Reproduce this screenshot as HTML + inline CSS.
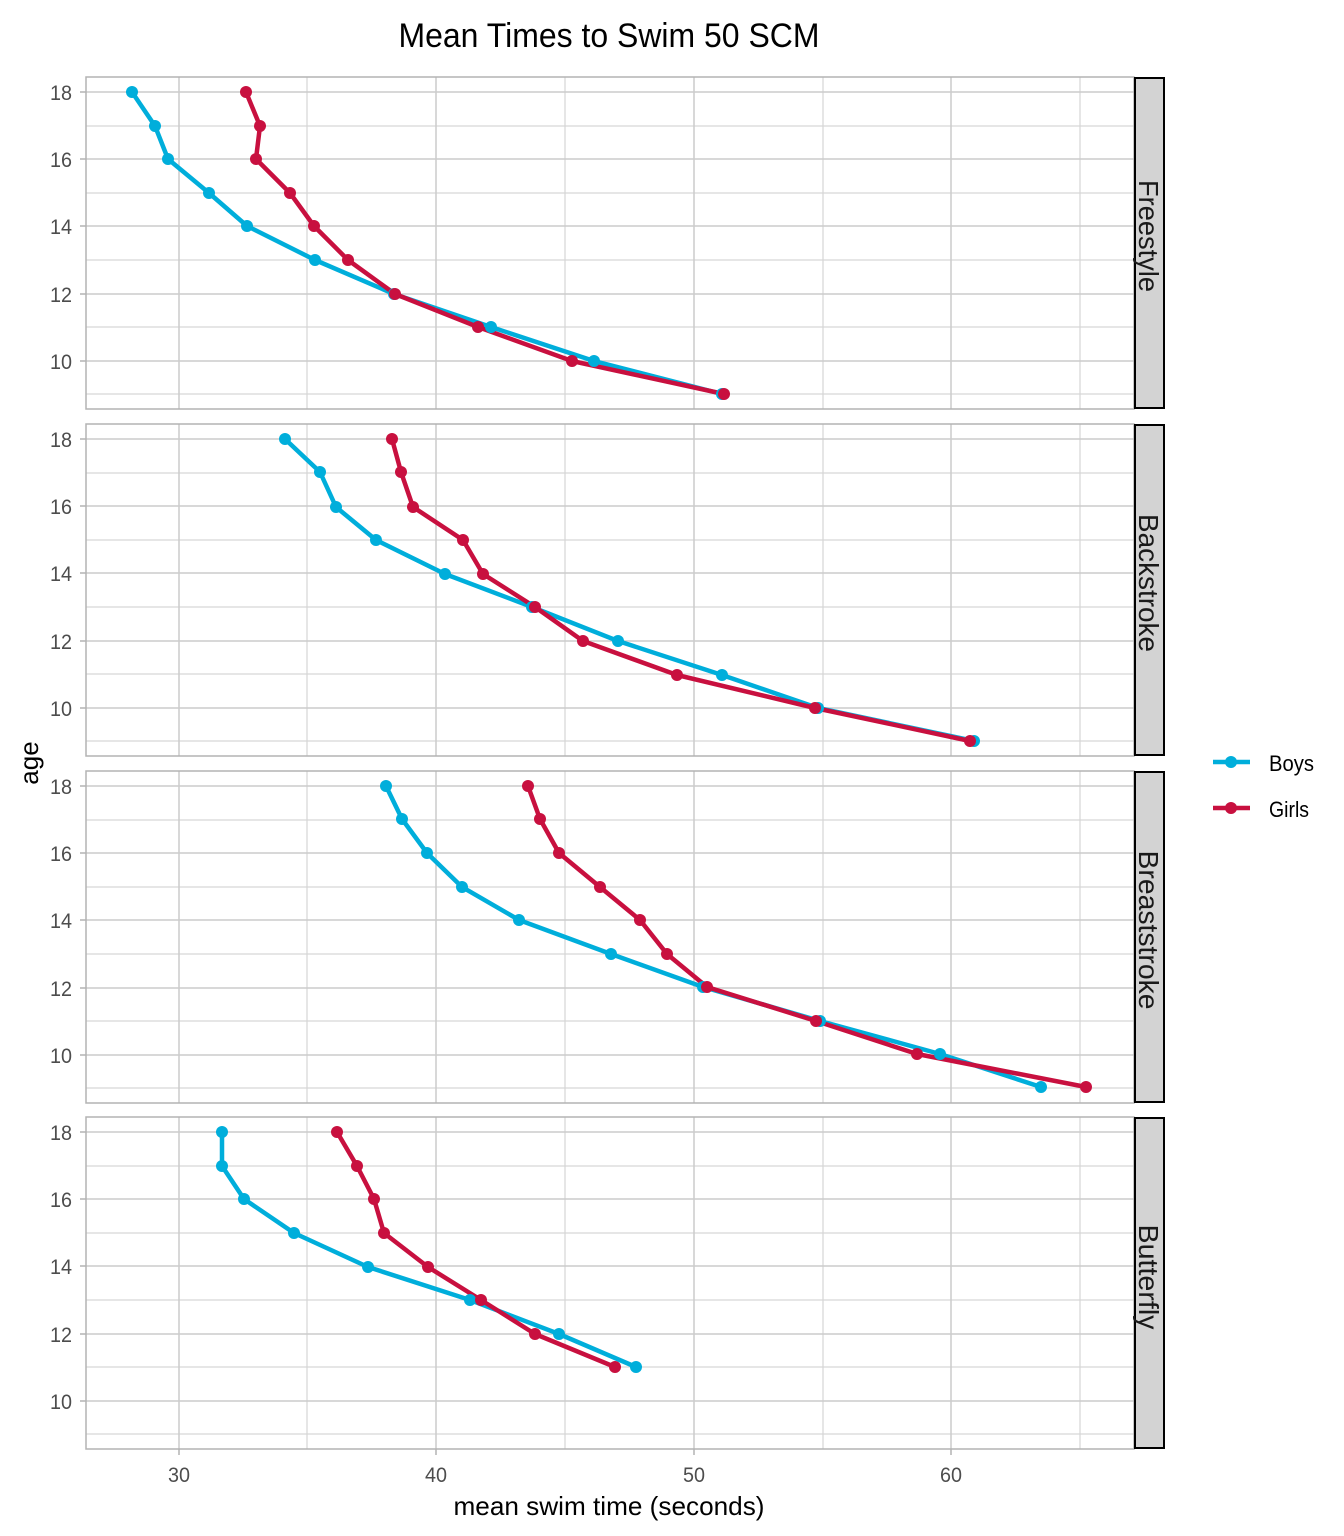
<!DOCTYPE html>
<html><head><meta charset="utf-8"><style>
html,body{margin:0;padding:0;background:#fff}
svg{display:block;font-family:"Liberation Sans",sans-serif}
.t{fill:#4d4d4d;font-size:21px}
</style></head><body>
<svg width="1344" height="1536" viewBox="0 0 1344 1536" xmlns="http://www.w3.org/2000/svg">
<defs>
<g id="grid">
<rect x="86" y="77" width="1048" height="332" fill="#fff" stroke="none"/>
<g stroke="#d6d6d6" stroke-width="1.2">
<line x1="86" x2="1134" y1="126" y2="126"/><line x1="86" x2="1134" y1="193" y2="193"/><line x1="86" x2="1134" y1="260" y2="260"/><line x1="86" x2="1134" y1="327" y2="327"/><line x1="86" x2="1134" y1="394" y2="394"/>
<line x1="307" x2="307" y1="77" y2="409"/><line x1="565" x2="565" y1="77" y2="409"/><line x1="823" x2="823" y1="77" y2="409"/><line x1="1080" x2="1080" y1="77" y2="409"/>
</g>
<g stroke="#cccccc" stroke-width="1.5">
<line x1="86" x2="1134" y1="92" y2="92"/><line x1="86" x2="1134" y1="159" y2="159"/><line x1="86" x2="1134" y1="226" y2="226"/><line x1="86" x2="1134" y1="294" y2="294"/><line x1="86" x2="1134" y1="361" y2="361"/>
<line x1="179" x2="179" y1="77" y2="409"/><line x1="436" x2="436" y1="77" y2="409"/><line x1="694" x2="694" y1="77" y2="409"/><line x1="951" x2="951" y1="77" y2="409"/>
</g>
<rect x="86" y="77" width="1048" height="332" fill="none" stroke="#b3b3b3" stroke-width="1.5"/>
<g stroke="#b3b3b3" stroke-width="1.5">
<line x1="80" x2="86" y1="92" y2="92"/><line x1="80" x2="86" y1="159" y2="159"/><line x1="80" x2="86" y1="226" y2="226"/><line x1="80" x2="86" y1="294" y2="294"/><line x1="80" x2="86" y1="361" y2="361"/>
</g>
<g class="t" text-anchor="end">
<text x="72" y="100" textLength="22" lengthAdjust="spacingAndGlyphs">18</text><text x="72" y="167" textLength="22" lengthAdjust="spacingAndGlyphs">16</text><text x="72" y="234" textLength="22" lengthAdjust="spacingAndGlyphs">14</text><text x="72" y="302" textLength="22" lengthAdjust="spacingAndGlyphs">12</text><text x="72" y="369" textLength="22" lengthAdjust="spacingAndGlyphs">10</text>
</g>
<rect x="1135" y="78" width="29" height="330" fill="#d3d3d3" stroke="#000" stroke-width="2"/>
</g>
</defs>

<text x="609" y="47" text-anchor="middle" font-size="34" textLength="421" lengthAdjust="spacingAndGlyphs">Mean Times to Swim 50 SCM</text>

<use href="#grid"/>
<use href="#grid" y="347"/>
<use href="#grid" y="694"/>
<use href="#grid" y="1040"/>

<g font-size="28" fill="#1a1a1a">
<text transform="translate(1139,236) rotate(90)" text-anchor="middle" textLength="112" lengthAdjust="spacingAndGlyphs">Freestyle</text>
<text transform="translate(1139,583) rotate(90)" text-anchor="middle" textLength="138" lengthAdjust="spacingAndGlyphs">Backstroke</text>
<text transform="translate(1139,930) rotate(90)" text-anchor="middle" textLength="159" lengthAdjust="spacingAndGlyphs">Breaststroke</text>
<text transform="translate(1139,1277) rotate(90)" text-anchor="middle" textLength="105" lengthAdjust="spacingAndGlyphs">Butterfly</text>
</g>

<g stroke="#b3b3b3" stroke-width="1.5">
<line x1="179" x2="179" y1="1449" y2="1455"/><line x1="436" x2="436" y1="1449" y2="1455"/><line x1="694" x2="694" y1="1449" y2="1455"/><line x1="951" x2="951" y1="1449" y2="1455"/>
</g>
<g class="t" text-anchor="middle">
<text x="179" y="1482" textLength="22" lengthAdjust="spacingAndGlyphs">30</text><text x="436" y="1482" textLength="22" lengthAdjust="spacingAndGlyphs">40</text><text x="694" y="1482" textLength="22" lengthAdjust="spacingAndGlyphs">50</text><text x="951" y="1482" textLength="22" lengthAdjust="spacingAndGlyphs">60</text>
</g>
<text x="609" y="1515" text-anchor="middle" font-size="26" textLength="311" lengthAdjust="spacingAndGlyphs">mean swim time (seconds)</text>
<text transform="translate(38,763) rotate(-90)" text-anchor="middle" font-size="26">age</text>

<g fill="none" stroke-width="4.5" stroke-linejoin="round">
<polyline stroke="#00AEDB" points="132,92 155,126 168,159 209,193 247,226 315,260 394,294 491,327 594,361 722,394"/>
<polyline stroke="#C8103F" points="246,92 260,126 256,159 290,193 314,226 348,260 395,294 478,327 572,361 724,394"/>
<polyline stroke="#00AEDB" points="285,439 320,472 336,507 376,540 445,574 532,607 618,641 722,675 818,708 974,741"/>
<polyline stroke="#C8103F" points="392,439 401,472 413,507 463,540 483,574 535,607 583,641 677,675 815,708 970,741"/>
<polyline stroke="#00AEDB" points="386,786 402,819 427,853 462,887 519,920 611,954 703,987 820,1021 940,1054 1041,1087"/>
<polyline stroke="#C8103F" points="528,786 540,819 559,853 600,887 640,920 667,954 707,987 816,1021 917,1054 1086,1087"/>
<polyline stroke="#00AEDB" points="222,1132 222,1166 244,1199 294,1233 368,1267 470,1300 559,1334 636,1367"/>
<polyline stroke="#C8103F" points="337,1132 357,1166 374,1199 384,1233 428,1267 481,1300 535,1334 615,1367"/>
</g>
<g fill="#00AEDB">
<circle cx="132" cy="92" r="6"/><circle cx="155" cy="126" r="6"/><circle cx="168" cy="159" r="6"/><circle cx="209" cy="193" r="6"/><circle cx="247" cy="226" r="6"/><circle cx="315" cy="260" r="6"/><circle cx="394" cy="294" r="6"/><circle cx="491" cy="327" r="6"/><circle cx="594" cy="361" r="6"/><circle cx="722" cy="394" r="6"/>
<circle cx="285" cy="439" r="6"/><circle cx="320" cy="472" r="6"/><circle cx="336" cy="507" r="6"/><circle cx="376" cy="540" r="6"/><circle cx="445" cy="574" r="6"/><circle cx="532" cy="607" r="6"/><circle cx="618" cy="641" r="6"/><circle cx="722" cy="675" r="6"/><circle cx="818" cy="708" r="6"/><circle cx="974" cy="741" r="6"/>
<circle cx="386" cy="786" r="6"/><circle cx="402" cy="819" r="6"/><circle cx="427" cy="853" r="6"/><circle cx="462" cy="887" r="6"/><circle cx="519" cy="920" r="6"/><circle cx="611" cy="954" r="6"/><circle cx="703" cy="987" r="6"/><circle cx="820" cy="1021" r="6"/><circle cx="940" cy="1054" r="6"/><circle cx="1041" cy="1087" r="6"/>
<circle cx="222" cy="1132" r="6"/><circle cx="222" cy="1166" r="6"/><circle cx="244" cy="1199" r="6"/><circle cx="294" cy="1233" r="6"/><circle cx="368" cy="1267" r="6"/><circle cx="470" cy="1300" r="6"/><circle cx="559" cy="1334" r="6"/><circle cx="636" cy="1367" r="6"/>
</g>
<g fill="#C8103F">
<circle cx="246" cy="92" r="6"/><circle cx="260" cy="126" r="6"/><circle cx="256" cy="159" r="6"/><circle cx="290" cy="193" r="6"/><circle cx="314" cy="226" r="6"/><circle cx="348" cy="260" r="6"/><circle cx="395" cy="294" r="6"/><circle cx="478" cy="327" r="6"/><circle cx="572" cy="361" r="6"/><circle cx="724" cy="394" r="6"/>
<circle cx="392" cy="439" r="6"/><circle cx="401" cy="472" r="6"/><circle cx="413" cy="507" r="6"/><circle cx="463" cy="540" r="6"/><circle cx="483" cy="574" r="6"/><circle cx="535" cy="607" r="6"/><circle cx="583" cy="641" r="6"/><circle cx="677" cy="675" r="6"/><circle cx="815" cy="708" r="6"/><circle cx="970" cy="741" r="6"/>
<circle cx="528" cy="786" r="6"/><circle cx="540" cy="819" r="6"/><circle cx="559" cy="853" r="6"/><circle cx="600" cy="887" r="6"/><circle cx="640" cy="920" r="6"/><circle cx="667" cy="954" r="6"/><circle cx="707" cy="987" r="6"/><circle cx="816" cy="1021" r="6"/><circle cx="917" cy="1054" r="6"/><circle cx="1086" cy="1087" r="6"/>
<circle cx="337" cy="1132" r="6"/><circle cx="357" cy="1166" r="6"/><circle cx="374" cy="1199" r="6"/><circle cx="384" cy="1233" r="6"/><circle cx="428" cy="1267" r="6"/><circle cx="481" cy="1300" r="6"/><circle cx="535" cy="1334" r="6"/><circle cx="615" cy="1367" r="6"/>
</g>

<line x1="1213" x2="1250" y1="762" y2="762" stroke="#00AEDB" stroke-width="4.5"/><circle cx="1231" cy="762" r="6" fill="#00AEDB"/>
<line x1="1213" x2="1250" y1="808" y2="808" stroke="#C8103F" stroke-width="4.5"/><circle cx="1231" cy="808" r="6" fill="#C8103F"/>
<text x="1269" y="771" font-size="22" textLength="45" lengthAdjust="spacingAndGlyphs">Boys</text>
<text x="1269" y="817" font-size="22" textLength="40" lengthAdjust="spacingAndGlyphs">Girls</text>
</svg>
</body></html>
